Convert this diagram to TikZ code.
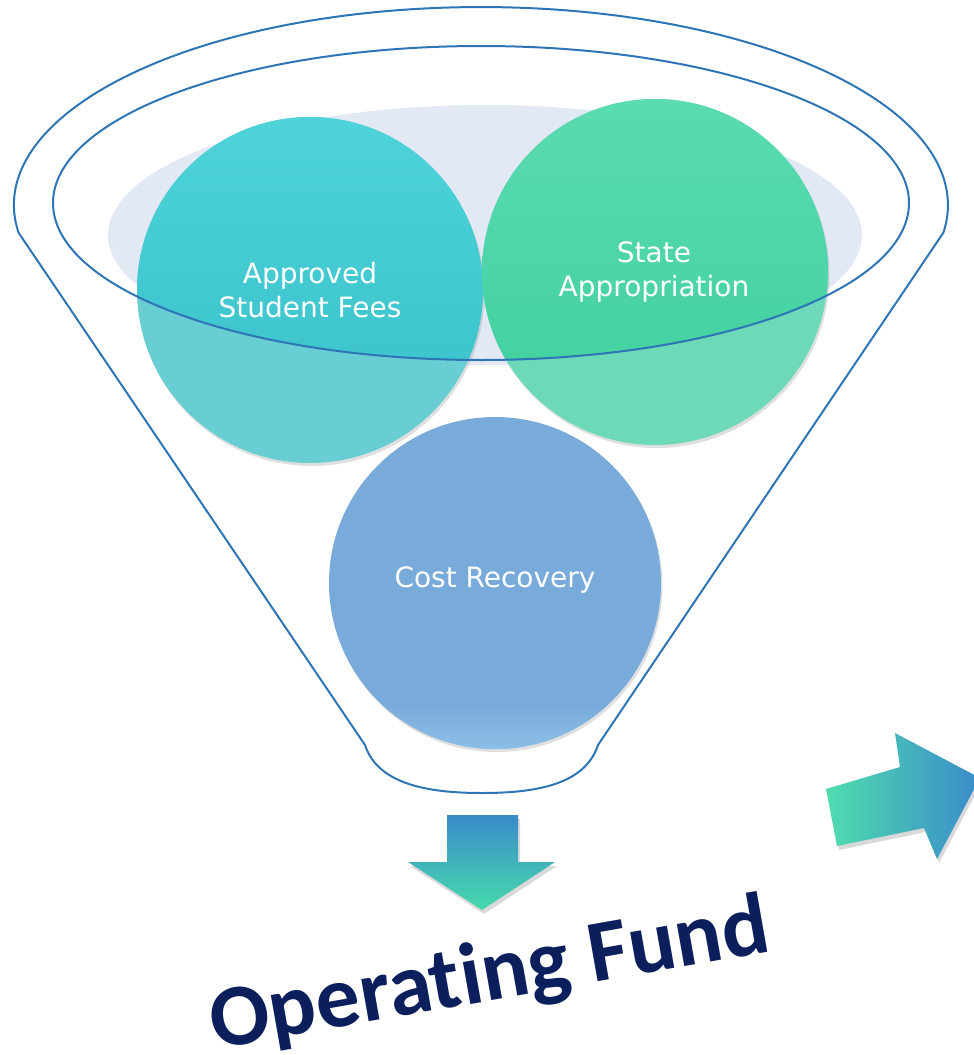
\documentclass[tikz,border=0pt]{standalone}
\usepackage{fontspec}
\newfontfamily\lblfont{DejaVu Sans}
\newfontfamily\fundfont[Ligatures=NoCommon]{Carlito}
\usetikzlibrary{shadows}
\definecolor{funnelblue}{HTML}{2E75B6}
\definecolor{bgell}{HTML}{E3E9F4}
\definecolor{aLight}{HTML}{68CED4}
\definecolor{aTop}{HTML}{4DD3D9}
\definecolor{aBot}{HTML}{38BEC8}
\definecolor{sLight}{HTML}{6ED9B8}
\definecolor{sTop}{HTML}{5ADBB0}
\definecolor{sBot}{HTML}{3ECF9C}
\definecolor{cFill}{HTML}{78ABD9}
\definecolor{cBot}{HTML}{8DC0E8}
\definecolor{arrBlue}{HTML}{3A8BCB}
\definecolor{arrGreen}{HTML}{46DBAA}
\definecolor{navy}{HTML}{0B1F5C}
\tikzset{
  funnel/.style={draw=funnelblue, line width=2pt},
  bubble/.style={circle, inner sep=0pt, drop shadow={shadow xshift=1.5pt, shadow yshift=-3pt, opacity=0.25}},
  lbl/.style={text=white, align=center, font=\lblfont\fontsize{28}{34}\selectfont},
  arrowshadow/.style={drop shadow={shadow xshift=2pt, shadow yshift=-4pt, opacity=0.3}}
}
\begin{document}
\begin{tikzpicture}[x=1pt,y=-1pt]
\useasboundingbox (0,0) rectangle (974,1055);
% light background ellipse
\fill[bgell] (485,235) ellipse [x radius=377, y radius=130];
% circles
\node[bubble, fill=aLight, minimum size=346pt] (cA) at (310,290) {};
\node[bubble, fill=sLight, minimum size=346pt] (cS) at (655,272) {};
\node[bubble, fill=cFill, minimum size=332pt] (cC) at (495,583) {};
\begin{scope}
  \clip (cC.center) circle [radius=166];
  \shade[top color=cFill, bottom color=cBot] (320,705) rectangle (670,752);
\end{scope}
% stronger colour inside the funnel mouth
\begin{scope}
  \clip (481,203) ellipse [x radius=428, y radius=157];
  \shade[top color=aTop, bottom color=aBot] (cA.center) circle [radius=173];
  \shade[top color=sTop, bottom color=sBot] (cS.center) circle [radius=173];
\end{scope}
% labels
\node[lbl] (tA) at (310,290) {Approved\\Student Fees};
\node[lbl] (tS) at (654,272) {State\\Appropriation};
\node[lbl] (tC) at (495,580) {Cost Recovery};
% funnel mouth
\draw[funnel] (481,203) ellipse [x radius=428, y radius=157];
% funnel body
\draw[funnel] (18.5,232.6) arc[start angle=172, end angle=368, x radius=467, y radius=198]
  -- (598,745) .. controls (585,785) and (535,793) .. (482,793)
  .. controls (430,793) and (378,785) .. (365,745) -- cycle;
% down arrow
\shade[top color=arrBlue, bottom color=arrGreen, arrowshadow]
  (447,815) -- (518,815) -- (518,862) -- (555,862) -- (482,910) -- (408,862) -- (447,862) -- cycle;
% right arrow
\shade[left color=arrGreen!95!white, right color=arrBlue, arrowshadow]
  (826,789) -- (900,767) -- (895,733) -- (980,778) -- (937,859) -- (924,828) -- (837,846) -- cycle;
% title
\node[text=navy, font=\fundfont\bfseries\fontsize{88}{88}\selectfont, rotate=10] (fund) at (490,977) {Operating Fund};
\end{tikzpicture}
\end{document}
